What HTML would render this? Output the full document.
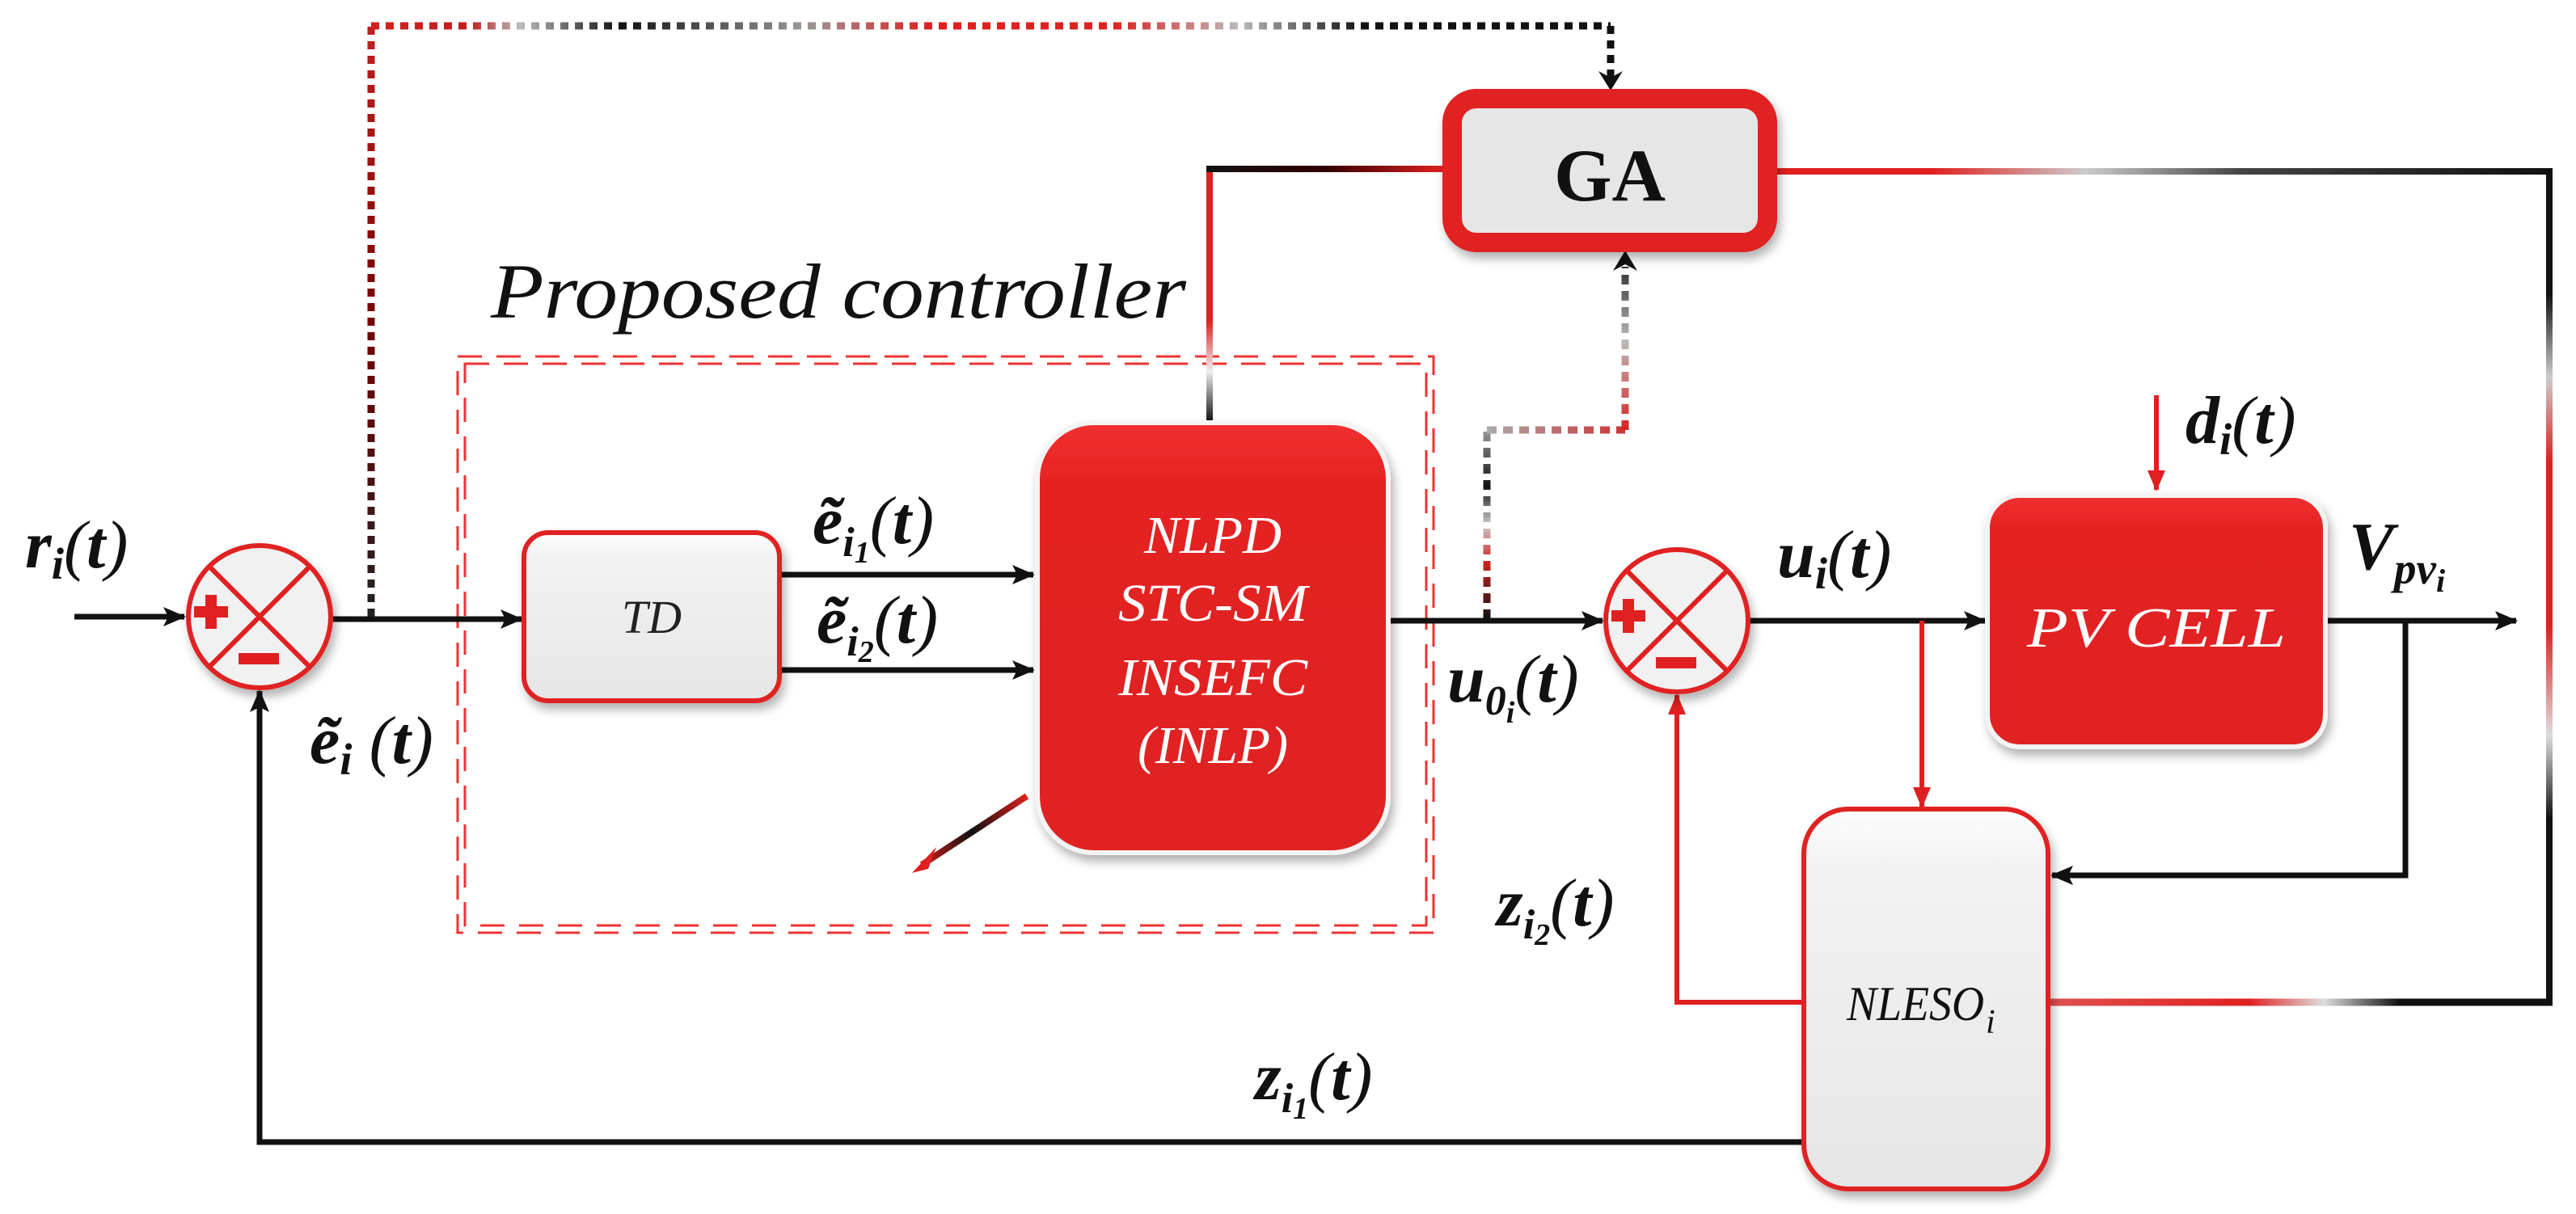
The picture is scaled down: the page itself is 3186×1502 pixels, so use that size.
<!DOCTYPE html>
<html><head><meta charset="utf-8"><style>
html,body{margin:0;padding:0;background:#fff}
svg{display:block}
text{font-family:"Liberation Serif","DejaVu Serif",serif}
.m{font-style:italic;font-weight:bold;fill:#111}
.w{font-style:italic;fill:#fff}
.it{font-style:italic}
</style></head><body>
<svg width="3186" height="1502" viewBox="0 0 3186 1502" xmlns="http://www.w3.org/2000/svg">
<defs>
<linearGradient id="topg" gradientUnits="userSpaceOnUse" x1="459" y1="0" x2="1992" y2="0">
<stop offset="0" stop-color="#d42020"/><stop offset="0.08" stop-color="#c02020"/><stop offset="0.12" stop-color="#bbb"/><stop offset="0.2" stop-color="#111"/><stop offset="0.35" stop-color="#999"/><stop offset="0.45" stop-color="#e02020"/><stop offset="0.6" stop-color="#d22"/><stop offset="0.7" stop-color="#bbb"/><stop offset="0.8" stop-color="#111"/><stop offset="1" stop-color="#111"/>
</linearGradient>
<linearGradient id="vdot" gradientUnits="userSpaceOnUse" x1="0" y1="32" x2="0" y2="766">
<stop offset="0" stop-color="#c02020"/><stop offset="0.5" stop-color="#700"/><stop offset="1" stop-color="#222"/>
</linearGradient>
<linearGradient id="ga2" gradientUnits="userSpaceOnUse" x1="1840" y1="0" x2="2010" y2="0">
<stop offset="0" stop-color="#aaa"/><stop offset="1" stop-color="#c33"/>
</linearGradient>
<linearGradient id="ga2v" gradientUnits="userSpaceOnUse" x1="0" y1="766" x2="0" y2="532">
<stop offset="0" stop-color="#111"/><stop offset="0.3" stop-color="#c22"/><stop offset="0.5" stop-color="#ccc"/><stop offset="0.7" stop-color="#111"/><stop offset="1" stop-color="#999"/>
</linearGradient>
<linearGradient id="ga3v" gradientUnits="userSpaceOnUse" x1="0" y1="532" x2="0" y2="310">
<stop offset="0" stop-color="#d22"/><stop offset="0.5" stop-color="#bbb"/><stop offset="1" stop-color="#111"/>
</linearGradient>
<linearGradient id="lft" gradientUnits="userSpaceOnUse" x1="0" y1="522" x2="0" y2="209">
<stop offset="0" stop-color="#111"/><stop offset="0.2" stop-color="#eee"/><stop offset="0.4" stop-color="#e02020"/><stop offset="1" stop-color="#e02020"/>
</linearGradient>
<linearGradient id="lfth" gradientUnits="userSpaceOnUse" x1="1496" y1="0" x2="1785" y2="0">
<stop offset="0" stop-color="#111"/><stop offset="0.5" stop-color="#300"/><stop offset="1" stop-color="#e02020"/>
</linearGradient>
<linearGradient id="rt" gradientUnits="userSpaceOnUse" x1="2198" y1="0" x2="3153" y2="0">
<stop offset="0" stop-color="#e02020"/><stop offset="0.2" stop-color="#e02020"/><stop offset="0.4" stop-color="#ccc"/><stop offset="0.6" stop-color="#444"/><stop offset="1" stop-color="#111"/>
</linearGradient>
<linearGradient id="rv" gradientUnits="userSpaceOnUse" x1="0" y1="209" x2="0" y2="1240">
<stop offset="0" stop-color="#111"/><stop offset="0.15" stop-color="#111"/><stop offset="0.25" stop-color="#ccc"/><stop offset="0.35" stop-color="#e02020"/><stop offset="0.55" stop-color="#e02020"/><stop offset="0.68" stop-color="#ddd"/><stop offset="0.78" stop-color="#111"/><stop offset="1" stop-color="#111"/>
</linearGradient>
<linearGradient id="bt" gradientUnits="userSpaceOnUse" x1="2533" y1="0" x2="3153" y2="0">
<stop offset="0" stop-color="#e05050"/><stop offset="0.4" stop-color="#e02020"/><stop offset="0.55" stop-color="#ddd"/><stop offset="0.7" stop-color="#111"/><stop offset="1" stop-color="#111"/>
</linearGradient>
<linearGradient id="diag" gradientUnits="userSpaceOnUse" x1="1270" y1="985" x2="1135" y2="1075">
<stop offset="0" stop-color="#e02020"/><stop offset="0.5" stop-color="#111"/><stop offset="1" stop-color="#e02020"/>
</linearGradient>
<linearGradient id="boxw" x1="0" y1="0" x2="0" y2="1">
<stop offset="0" stop-color="#fdfdfd"/><stop offset="0.15" stop-color="#f2f2f2"/><stop offset="1" stop-color="#e6e6e6"/>
</linearGradient>
<linearGradient id="boxr" x1="0" y1="0" x2="0" y2="1">
<stop offset="0" stop-color="#f03030"/><stop offset="0.15" stop-color="#e42222"/><stop offset="1" stop-color="#e02020"/>
</linearGradient>
<marker id="ar" markerWidth="26" markerHeight="22" refX="24" refY="11" orient="auto" markerUnits="userSpaceOnUse" viewBox="0 0 26 22"><path d="M0,0 L26,11 L0,22 z" fill="#e02020"/></marker>
<marker id="ak" markerWidth="28" markerHeight="24" refX="26" refY="12" orient="auto" markerUnits="userSpaceOnUse" viewBox="0 0 28 24"><path d="M0,0 L28,12 L0,24 L6,12 z" fill="#111"/></marker>
<filter id="sh" x="-10%" y="-10%" width="130%" height="130%"><feDropShadow dx="4" dy="8" stdDeviation="6" flood-color="#000" flood-opacity="0.3"/></filter>
</defs>

<g fill="none" stroke="#ee3333" stroke-width="3" stroke-dasharray="30,18">
<rect x="566" y="441" width="1207" height="713"/>
<rect x="575" y="450" width="1189" height="695"/>
</g>
<text x="607" y="393" class="it" font-size="96" fill="#111" textLength="860" lengthAdjust="spacingAndGlyphs">Proposed controller</text>

<g fill="none" stroke-width="9" stroke-dasharray="10,8">
<path d="M459,763 L459,32" stroke="url(#vdot)"/>
<path d="M459,32 L1992,32" stroke="url(#topg)"/>
<path d="M1992,32 L1992,100" stroke="#111"/>
</g>
<path d="M1977,88 L1992,112 L2007,88 L1992,96 z" fill="#111"/>

<g fill="none" stroke-width="9" stroke-dasharray="12,8">
<path d="M1839,766 L1839,532" stroke="url(#ga2v)"/>
<path d="M1839,532 L2010,532" stroke="url(#ga2)"/>
<path d="M2010,532 L2010,330" stroke="url(#ga3v)"/>
</g>
<path d="M1995,335 L2010,310 L2025,335 L2010,327 z" fill="#111"/>

<path d="M1496,522 L1496,209" stroke="url(#lft)" stroke-width="8" fill="none"/>
<path d="M1492,209 L1785,209" stroke="url(#lfth)" stroke-width="8" fill="none"/>
<path d="M2198,212 L3153,212" stroke="url(#rt)" stroke-width="8" fill="none"/>
<path d="M3153,208 L3153,1244" stroke="url(#rv)" stroke-width="8" fill="none"/>
<path d="M2533,1240 L3157,1240" stroke="url(#bt)" stroke-width="9" fill="none"/>

<g stroke="#111" stroke-width="7" fill="none">
<path d="M92,763 L228,763" marker-end="url(#ak)"/>
<path d="M412,766 L645,766" marker-end="url(#ak)"/>
<path d="M964,711 L1278,711" marker-end="url(#ak)"/>
<path d="M964,829 L1278,829" marker-end="url(#ak)"/>
<path d="M1719,768 L1982,768" marker-end="url(#ak)"/>
<path d="M2164,768 L2455,768" marker-end="url(#ak)"/>
<path d="M2876,768 L3112,768" marker-end="url(#ak)"/>
<path d="M2975,768 L2975,1083 L2538,1083" marker-end="url(#ak)"/>
<path d="M2231,1413 L321,1413 L321,855" marker-end="url(#ak)"/>
</g>
<g stroke="#e02020" stroke-width="6" fill="none">
<path d="M2377,768 L2377,998" marker-end="url(#ar)"/>
<path d="M2231,1240 L2074,1240 L2074,860" marker-end="url(#ar)"/>
<path d="M2667,489 L2667,606" marker-end="url(#ar)"/>
</g>
<path d="M1270,985 L1140,1070" stroke="url(#diag)" stroke-width="8" fill="none"/>
<path d="M1128,1080 L1158,1048 L1148,1075 z" fill="#e02020"/>

<g>
<circle cx="321" cy="763" r="88" fill="#f1f1f1" stroke="#e02020" stroke-width="6" filter="url(#sh)"/>
<path d="M259,701 L383,825 M383,701 L259,825" stroke="#e02020" stroke-width="6"/>
<path d="M240,750 h14 v-14 h14 v14 h14 v14 h-14 v14 h-14 v-14 h-14 z" fill="#e02020"/>
<rect x="295" y="808" width="50" height="14" fill="#e02020"/>
</g>
<g>
<circle cx="2074" cy="768" r="88" fill="#f1f1f1" stroke="#e02020" stroke-width="6" filter="url(#sh)"/>
<path d="M2012,706 L2136,830 M2136,706 L2012,830" stroke="#e02020" stroke-width="6"/>
<path d="M1993,755 h14 v-14 h14 v14 h14 v14 h-14 v14 h-14 v-14 h-14 z" fill="#e02020"/>
<rect x="2048" y="813" width="50" height="14" fill="#e02020"/>
</g>

<rect x="648" y="659" width="316" height="208" rx="30" fill="url(#boxw)" stroke="#e02020" stroke-width="6" filter="url(#sh)"/>
<text x="806" y="783" text-anchor="middle" class="it" font-size="58" fill="#222">TD</text>

<rect x="1283" y="523" width="434" height="532" rx="70" fill="url(#boxr)" stroke="#f4f4f4" stroke-width="6" filter="url(#sh)"/>
<g class="w" font-size="66" text-anchor="middle">
<text x="1500" y="684" textLength="170" lengthAdjust="spacingAndGlyphs">NLPD</text>
<text x="1500" y="768" textLength="234" lengthAdjust="spacingAndGlyphs">STC-SM</text>
<text x="1500" y="860" textLength="234" lengthAdjust="spacingAndGlyphs">INSEFC</text>
<text x="1500" y="944" textLength="186" lengthAdjust="spacingAndGlyphs">(INLP)</text>
</g>

<rect x="1796" y="122" width="390" height="178" rx="30" fill="#e6e6e6" stroke="#e02020" stroke-width="24" filter="url(#sh)"/>
<text x="1991" y="248" text-anchor="middle" font-weight="bold" font-size="92" fill="#111">GA</text>

<rect x="2458" y="613" width="418" height="311" rx="40" fill="url(#boxr)" stroke="#f4f4f4" stroke-width="6" filter="url(#sh)"/>
<text x="2667" y="800" text-anchor="middle" class="w" font-size="70" textLength="320" lengthAdjust="spacingAndGlyphs">PV CELL</text>

<rect x="2231" y="1001" width="302" height="470" rx="55" fill="url(#boxw)" stroke="#e02020" stroke-width="6" filter="url(#sh)"/>
<text x="2284" y="1262" class="it" font-size="60" fill="#111" textLength="170" lengthAdjust="spacingAndGlyphs">NLESO</text>
<text x="2456" y="1278" class="it" font-size="42" fill="#111">i</text>

<g class="m" font-size="84">
<text x="31" y="702">r<tspan font-size="55" dy="14">i</tspan><tspan dy="-14" font-weight="normal">(</tspan>t<tspan font-weight="normal">)</tspan></text>
<text x="1005" y="672">ẽ<tspan font-size="52" dy="16">i</tspan><tspan font-size="38" dy="8">1</tspan><tspan dy="-24" font-weight="normal">(</tspan>t<tspan font-weight="normal">)</tspan></text>
<text x="1010" y="795">ẽ<tspan font-size="52" dy="16">i</tspan><tspan font-size="38" dy="8">2</tspan><tspan dy="-24" font-weight="normal">(</tspan>t<tspan font-weight="normal">)</tspan></text>
<text x="383" y="944">ẽ<tspan font-size="55" dy="14">i</tspan><tspan dy="-14" font-weight="normal"> (</tspan>t<tspan font-weight="normal">)</tspan></text>
<text x="1790" y="868">u<tspan font-size="52" dy="16">0</tspan><tspan font-size="38" dy="10">i</tspan><tspan dy="-26" font-weight="normal">(</tspan>t<tspan font-weight="normal">)</tspan></text>
<text x="2198" y="714">u<tspan font-size="55" dy="14">i</tspan><tspan dy="-14" font-weight="normal">(</tspan>t<tspan font-weight="normal">)</tspan></text>
<text x="2703" y="548">d<tspan font-size="55" dy="14">i</tspan><tspan dy="-14" font-weight="normal">(</tspan>t<tspan font-weight="normal">)</tspan></text>
<text x="2905" y="704">V<tspan font-size="55" dy="18">pv</tspan><tspan font-size="40" dy="10">i</tspan></text>
<text x="1851" y="1145">z<tspan font-size="52" dy="16">i</tspan><tspan font-size="38" dy="8">2</tspan><tspan dy="-24" font-weight="normal">(</tspan>t<tspan font-weight="normal">)</tspan></text>
<text x="1552" y="1360">z<tspan font-size="52" dy="16">i</tspan><tspan font-size="38" dy="8">1</tspan><tspan dy="-24" font-weight="normal">(</tspan>t<tspan font-weight="normal">)</tspan></text>
</g>
</svg>
</body></html>
